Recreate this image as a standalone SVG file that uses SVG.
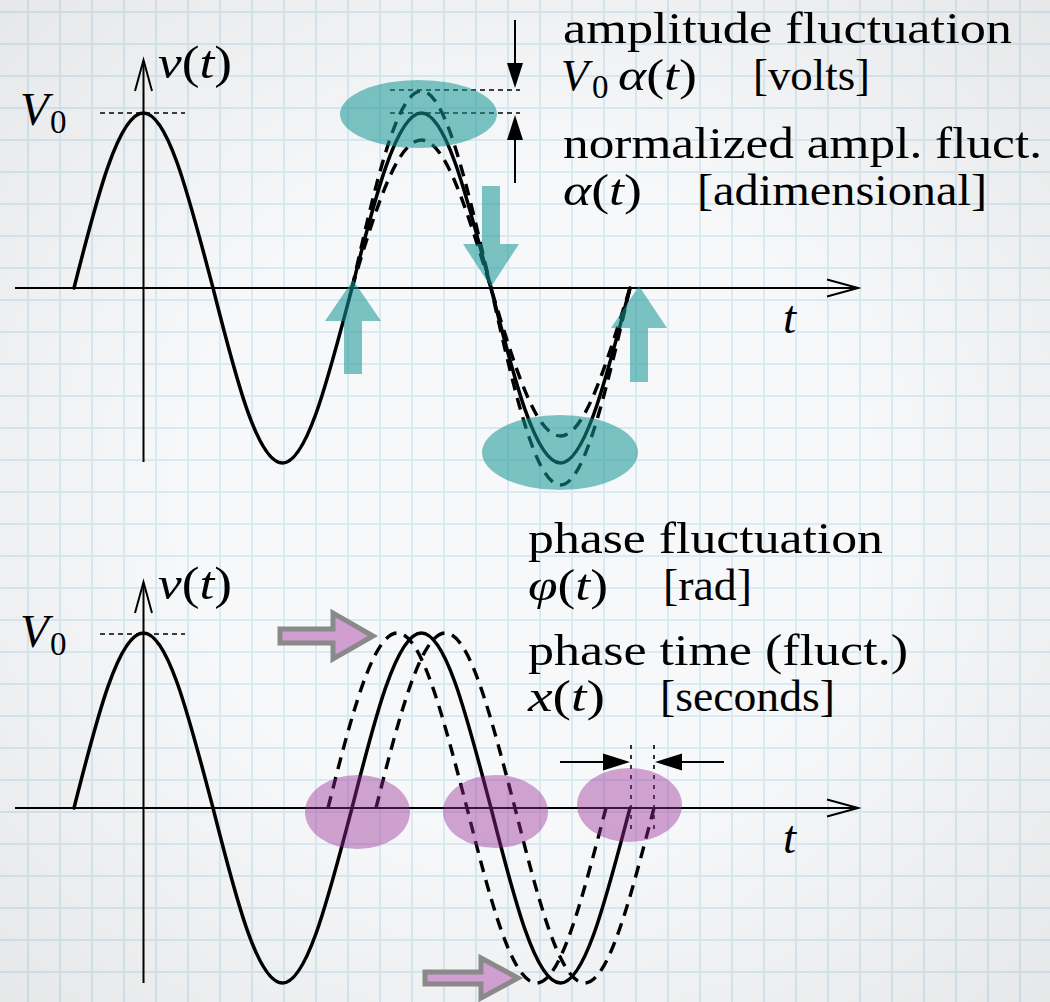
<svg xmlns="http://www.w3.org/2000/svg" width="1050" height="1002" viewBox="0 0 1050 1002">
<style>
.ax{stroke:#000;stroke-width:2;fill:none}
.wave{stroke:#000;stroke-width:3.5;fill:none;stroke-linecap:round}
.dash{stroke:#000;stroke-width:3.4;fill:none;stroke-dasharray:12 8}
.dot{stroke:#000;stroke-width:1.6;fill:none;stroke-dasharray:5 4}
.vdot{stroke:#000;stroke-width:1.6;fill:none;stroke-dasharray:4 6}
.head{fill:#000;stroke:none}
.teal{fill:rgb(20,150,150);fill-opacity:0.55}
.purp{fill:rgb(150,40,150);fill-opacity:0.42}
.parr{fill:rgb(208,158,208);stroke:#8a8a8a;stroke-width:5;stroke-linejoin:miter}
.lbl{font-family:"Liberation Serif","DejaVu Serif",serif;font-size:45px;fill:#000}
.big{font-size:47px}
.sub{font-size:33px}
.it{font-style:italic}
</style>
<defs>
<pattern id="grid" width="32" height="32" patternUnits="userSpaceOnUse" x="27" y="11">
<path d="M1,0 V32 M0,1 H32" stroke="#dbe9f2" stroke-width="2" fill="none"/>
</pattern>
<radialGradient id="vig" cx="50%" cy="50%" r="72%">
<stop offset="0.45" stop-color="#000" stop-opacity="0"/>
<stop offset="1" stop-color="#000" stop-opacity="0.07"/>
</radialGradient>
</defs>

<g id="background">
<rect width="1050" height="1002" fill="#f7f8f9"/>
<rect width="1050" height="1002" fill="url(#grid)"/>
<rect width="1050" height="1002" fill="url(#vig)"/>
</g>

<g id="top-plot">
<g id="top-axes">
<line class="ax" x1="15" y1="288" x2="857" y2="288"/>
<path class="ax" d="M827,279.5 L858,288 L827,296.5"/>
<line class="ax" x1="143.5" y1="462" x2="143.5" y2="61"/>
<path class="ax" d="M135,91 L143.5,60 L152,91"/>
<line class="dot" x1="100" y1="113" x2="185" y2="113"/>
</g>
<g id="top-wave">
<path class="wave" d="M74,288 c22.67,-89.65 44.46,-175 69.5,-175 c25.04,0 46.83,89.65 69.5,175 c22.67,89.65 44.46,175 69.5,175 c25.04,0 46.83,-89.65 69.5,-175 c22.67,-89.65 44.46,-175 69.5,-175 c25.04,0 46.83,89.65 69.5,175 c22.67,89.65 44.46,175 69.5,175 c25.04,0 46.83,-89.65 69.5,-175"/>
<path class="dash" d="M352,288 c22.67,-100.92 44.46,-197 69.5,-197 c25.04,0 46.83,100.92 69.5,197 c22.67,100.92 44.46,197 69.5,197 c25.04,0 46.83,-100.92 69.5,-197"/>
<path class="dash" d="M352,288 c22.67,-75.82 44.46,-148 69.5,-148 c25.04,0 46.83,75.82 69.5,148 c22.67,75.82 44.46,148 69.5,148 c25.04,0 46.83,-75.82 69.5,-148"/>
</g>
<g id="amp-marks">
<line class="dot" x1="390" y1="90" x2="520" y2="90"/>
<line class="dot" x1="390" y1="113" x2="520" y2="113"/>
<line class="ax" x1="515" y1="20" x2="515" y2="66"/>
<polygon class="head" points="507,63 523,63 515,88"/>
<line class="ax" x1="515" y1="183" x2="515" y2="137"/>
<polygon class="head" points="507,140 523,140 515,115"/>
</g>
<g id="teal-highlights">
<ellipse id="teal-top" class="teal" cx="418.5" cy="114" rx="78.5" ry="34"/>
<ellipse id="teal-bottom" class="teal" cx="560" cy="452.5" rx="78" ry="37.5"/>
<polygon id="teal-up1" class="teal" points="353,280 381,321 362,321 362,374 344,374 344,321 325,321"/>
<polygon id="teal-down" class="teal" points="482,186 500,186 500,244 519,244 491,287 463,244 482,244"/>
<polygon id="teal-up2" class="teal" points="639,286 667,328 648,328 648,382 630,382 630,328 611,328"/>
</g>
<g id="top-labels">
<text class="lbl big" x="158" y="78" textLength="74" lengthAdjust="spacingAndGlyphs"><tspan class="it">v</tspan>(<tspan class="it">t</tspan>)</text>
<text class="lbl big it" x="20" y="125">V</text>
<text class="lbl sub" x="50" y="133">0</text>
<text class="lbl big it" x="783" y="333">t</text>
<text class="lbl" x="563" y="43" textLength="449" lengthAdjust="spacingAndGlyphs">amplitude fluctuation</text>
<text class="lbl it" x="561" y="90">V</text>
<text class="lbl sub" x="592" y="98">0</text>
<text class="lbl" x="618" y="90" textLength="79" lengthAdjust="spacingAndGlyphs"><tspan class="it">α</tspan>(<tspan class="it">t</tspan>)</text>
<text class="lbl" x="753" y="90" textLength="117" lengthAdjust="spacingAndGlyphs">[volts]</text>
<text class="lbl" x="563" y="158" textLength="479" lengthAdjust="spacingAndGlyphs">normalized ampl. fluct.</text>
<text class="lbl" x="563" y="205" textLength="79" lengthAdjust="spacingAndGlyphs"><tspan class="it">α</tspan>(<tspan class="it">t</tspan>)</text>
<text class="lbl" x="697" y="205" textLength="290" lengthAdjust="spacingAndGlyphs">[adimensional]</text>
</g>
</g>

<g id="bottom-plot">
<g id="bottom-axes">
<line class="ax" x1="15" y1="808" x2="857" y2="808"/>
<path class="ax" d="M827,799.5 L858,808 L827,816.5"/>
<line class="ax" x1="143.5" y1="983" x2="143.5" y2="583"/>
<path class="ax" d="M135,613 L143.5,582 L152,613"/>
<line class="dot" x1="100" y1="634" x2="185" y2="634"/>
</g>
<g id="bottom-wave">
<path class="wave" d="M74,808 c22.67,-89.65 44.46,-175 69.5,-175 c25.04,0 46.83,89.65 69.5,175 c22.67,89.65 44.46,175 69.5,175 c25.04,0 46.83,-89.65 69.5,-175 c22.67,-89.65 44.46,-175 69.5,-175 c25.04,0 46.83,89.65 69.5,175 c22.67,89.65 44.46,175 69.5,175 c25.04,0 46.83,-89.65 69.5,-175"/>
<path class="dash" d="M328,808 c22.67,-89.65 44.46,-175 69.5,-175 c25.04,0 46.83,89.65 69.5,175 c22.67,89.65 44.46,175 69.5,175 c25.04,0 46.83,-89.65 69.5,-175"/>
<path class="dash" d="M376,808 c22.67,-89.65 44.46,-175 69.5,-175 c25.04,0 46.83,89.65 69.5,175 c22.67,89.65 44.46,175 69.5,175 c25.04,0 46.83,-89.65 69.5,-175"/>
</g>
<g id="time-marks">
<line class="vdot" x1="631" y1="745" x2="631" y2="835"/>
<line class="vdot" x1="654" y1="745" x2="654" y2="835"/>
<line class="ax" x1="560" y1="762" x2="606" y2="762"/>
<polygon class="head" points="603,753.5 603,770.5 630,762"/>
<line class="ax" x1="724" y1="762" x2="679" y2="762"/>
<polygon class="head" points="682,753.5 682,770.5 655,762"/>
</g>
<g id="purple-highlights">
<ellipse id="purp-1" class="purp" cx="357.5" cy="812" rx="52.5" ry="37"/>
<ellipse id="purp-2" class="purp" cx="495.5" cy="811.5" rx="52.5" ry="36.5"/>
<ellipse id="purp-3" class="purp" cx="629.5" cy="805" rx="52.5" ry="37"/>
<polygon id="parr-top" class="parr" points="280,629 333,629 333,613 373,636 333,659 333,643 280,643"/>
<polygon id="parr-bottom" class="parr" points="425,972 481,972 481,958 518,978 481,998 481,984 425,984"/>
</g>
<g id="bottom-labels">
<text class="lbl big" x="158" y="599" textLength="74" lengthAdjust="spacingAndGlyphs"><tspan class="it">v</tspan>(<tspan class="it">t</tspan>)</text>
<text class="lbl big it" x="20" y="647">V</text>
<text class="lbl sub" x="50" y="655">0</text>
<text class="lbl big it" x="783" y="853">t</text>
<text class="lbl" x="528" y="553" textLength="355" lengthAdjust="spacingAndGlyphs">phase fluctuation</text>
<text class="lbl" x="528" y="600" textLength="80" lengthAdjust="spacingAndGlyphs"><tspan class="it">φ</tspan>(<tspan class="it">t</tspan>)</text>
<text class="lbl" x="663" y="600" textLength="89" lengthAdjust="spacingAndGlyphs">[rad]</text>
<text class="lbl" x="528" y="665" textLength="380" lengthAdjust="spacingAndGlyphs">phase time (fluct.)</text>
<text class="lbl" x="528" y="711" textLength="77" lengthAdjust="spacingAndGlyphs"><tspan class="it">x</tspan>(<tspan class="it">t</tspan>)</text>
<text class="lbl" x="660" y="711" textLength="175" lengthAdjust="spacingAndGlyphs">[seconds]</text>
</g>
</g>
</svg>
